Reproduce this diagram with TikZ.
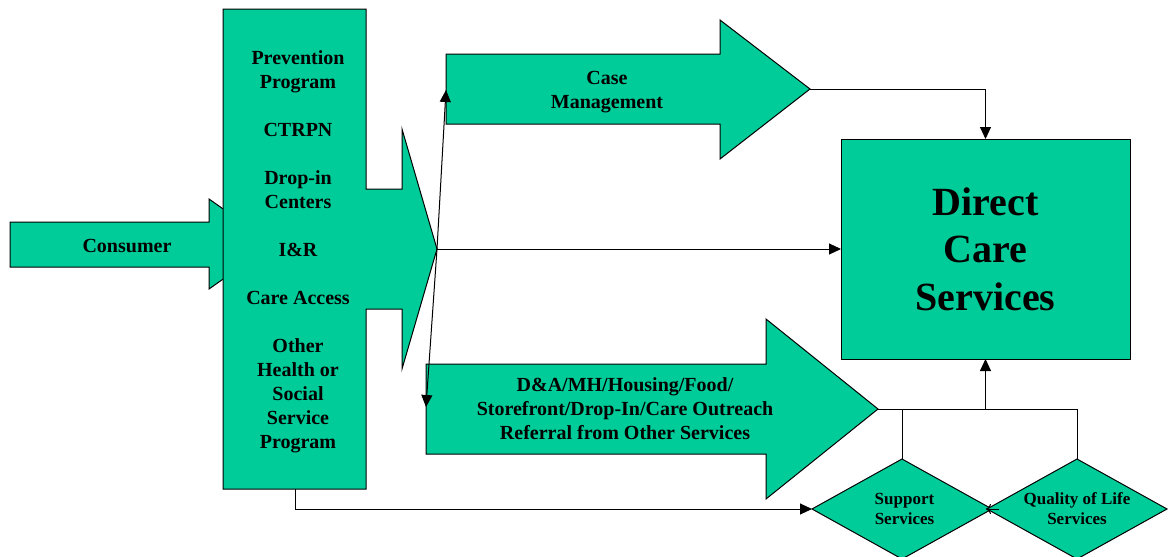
\documentclass[tikz,border=0pt]{standalone}
\usepackage{fontspec}
\setmainfont{Liberation Serif}
\usetikzlibrary{arrows.meta,shapes.geometric,calc}
\definecolor{sg}{HTML}{00CC99}
\begin{document}
\begin{tikzpicture}[x=1pt,y=-1pt,line width=1pt,
  shapebox/.style={draw=black,fill=sg,line join=miter},
  arr/.style={draw=black,-{Triangle[length=12pt,width=11pt]}},
  lbl/.style={font=\fontsize{20}{24}\selectfont\bfseries,align=center,inner sep=0pt},
  smalllbl/.style={font=\fontsize{17}{20}\selectfont\bfseries,align=center,inner sep=0pt},
  biglbl/.style={font=\fontsize{40}{47.5}\selectfont\bfseries,align=center,inner sep=0pt},
  dia/.style={shape=diamond,draw=black,fill=sg,inner sep=0pt,outer sep=0pt,minimum width=180pt,minimum height=100pt}]
\clip (0,0) rectangle (1168,557);
% Consumer arrow
\draw[shapebox] (10,222) -- (209,222) -- (209,199) -- (273,244) -- (209,289) -- (209,267) -- (10,267) -- cycle;
% left program box with arrow
\draw[shapebox] (223,9) -- (366,9) -- (366,189) -- (402,189) -- (402,129) -- (437,249) -- (402,369) -- (402,309) -- (366,309) -- (366,489) -- (223,489) -- cycle;
\coordinate (lefttip) at (437,249);
\coordinate (leftbottom) at (295,489);
% Case management arrow
\draw[shapebox] (446,54) -- (720,54) -- (720,20) -- (810,89) -- (720,159) -- (720,124) -- (446,124) -- cycle;
\coordinate (cmtip) at (810,89);
\coordinate (cmin) at (446,90);
% D&A arrow
\draw[shapebox] (426,364) -- (766,364) -- (766,319) -- (878,409) -- (766,499) -- (766,454) -- (426,454) -- cycle;
\coordinate (datip) at (878,409);
\coordinate (dain) at (426,407);
% Direct care box
\node[draw=black,fill=sg,minimum width=289pt,minimum height=220pt,inner sep=0pt,outer sep=0pt] (dc) at (985.5,249) {};
% diamonds
\node[dia] (sup) at (902,509) {};
\node[dia] (qol) at (1077,509) {};
% labels
\node[lbl] (consumerlbl) at (127,246) {Consumer};
\node[lbl] (leftlbl) at (298,251.5) {Prevention\\Program\\[24pt]CTRPN\\[24pt]Drop-in\\Centers\\[24pt]I\&R\\[24pt]Care Access\\[24pt]Other\\Health or\\Social\\Service\\Program};
\node[lbl] (cmlbl) at (607,92) {Case\\Management};
\node[lbl] (dalbl) at (625,408.7) {D\&A/MH/Housing/Food/\\Storefront/Drop-In/Care Outreach\\Referral from Other Services};
\node[biglbl] (dclbl) at (985.5,249.3) {Direct\\Care\\Services};
\node[smalllbl] (suplbl) at (904.5,509.3) {Support\\Services};
\node[smalllbl] (qollbl) at (1077,509) {Quality of Life\\Services};
% connectors
\draw[arr] (cmtip) -| (dc.north);
\draw[arr] (lefttip) -- (dc.west);
\draw[arr] (lefttip) -- (cmin);
\draw[arr] (lefttip) -- (dain);
\draw (datip) -- (qol.north |- datip) -- (qol.north);
\draw (sup.north |- datip) -- (sup.north);
\draw[arr] (dc.south |- datip) -- (dc.south);
\draw[arr] (leftbottom) |- (sup.west);
\draw[draw=black,-{To[length=5pt,width=10pt]}] ([xshift=12pt]qol.west) -- ([xshift=-6pt]sup.east);
\end{tikzpicture}
\end{document}
